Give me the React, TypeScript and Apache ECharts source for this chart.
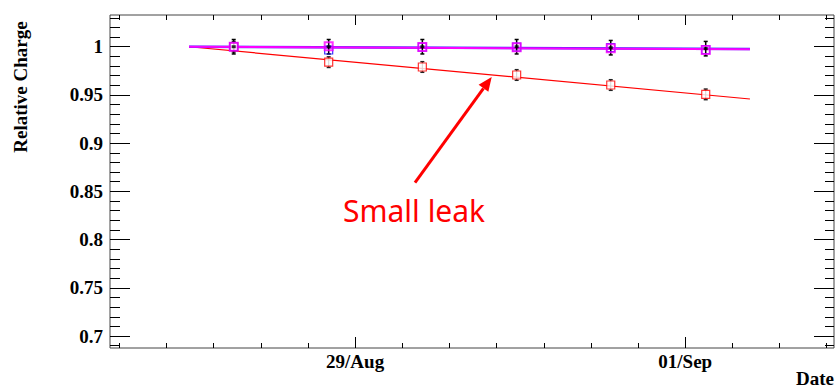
import React, { useEffect, useRef } from 'react';
import * as echarts from 'echarts';

// x values are days relative to 29/Aug 00:00
const pointDays = [-1.103, -0.24, 0.611, 1.468, 2.323, 3.186];
const redValues = [1.0, 0.984, 0.979, 0.9707, 0.9603, 0.9506];
const redErrors = [0.0055, 0.0055, 0.0055, 0.0055, 0.0055, 0.0055];
const blueValues = [1.0, 0.9966, 0.9995, 0.9995, 0.999, 0.997];
const magentaValues = [1.0, 1.0005, 0.9997, 0.9994, 0.9985, 0.9965];
const blackValues = [1.0, 1.0, 1.0, 1.0, 0.999, 0.998];
const blackErrors = [0.0075, 0.0075, 0.0075, 0.0075, 0.0075, 0.0075];

const fitDays = [-1.509, 3.588];
const redFit = [1.0, 0.9458];
const blueFit = [1.0, 0.9976];
const magentaFit = [1.0, 0.9973];

const xRange = [-2.2272, 4.3517];
const yRange = [0.6876, 1.0329];

const xMajorTickDays = [0, 3];
const xMajorTickLabels = ['29/Aug', '01/Sep'];
const xMinorTickDays = [
  -2.142857, -1.714286, -1.285714, -0.857143, -0.428571, 0, 0.428571, 0.857143,
  1.285714, 1.714286, 2.142857, 2.571429, 3, 3.428571, 3.857143, 4.285714,
];
const yMajorTicks = [0.7, 0.75, 0.8, 0.85, 0.9, 0.95, 1.0];
const yMajorTickLabels = ['0.7', '0.75', '0.8', '0.85', '0.9', '0.95', '1'];
const yMinorTicks = [
  0.69, 0.7, 0.71, 0.72, 0.73, 0.74, 0.75, 0.76, 0.77, 0.78, 0.79, 0.8, 0.81, 0.82,
  0.83, 0.84, 0.85, 0.86, 0.87, 0.88, 0.89, 0.9, 0.91, 0.92, 0.93, 0.94, 0.95, 0.96,
  0.97, 0.98, 0.99, 1.0, 1.01, 1.02, 1.03,
];

const labelFont = {
  fontFamily: 'Liberation Serif',
  fontWeight: 'bold' as const,
  fontSize: 19,
  color: '#000',
};

function closestLabel(v: number, ticks: number[], labels: string[]) {
  let best = 0;
  for (let i = 0; i < ticks.length; i++) {
    if (Math.abs(ticks[i] - v) < Math.abs(ticks[best] - v)) best = i;
  }
  return labels[best];
}

function tickAxis(
  kind: 'x' | 'y',
  position: string,
  values: number[],
  length: number,
  withLabels: boolean,
  labelValues?: number[],
  labelTexts?: string[],
  margin?: number,
) {
  const range = kind === 'x' ? xRange : yRange;
  return {
    type: 'value',
    position,
    min: range[0],
    max: range[1],
    axisLine: { show: false, onZero: false },
    splitLine: { show: false },
    axisTick: {
      show: true,
      inside: true,
      length,
      customValues: values,
      lineStyle: { color: '#000', width: 1 },
    },
    axisLabel: withLabels
      ? {
          show: true,
          customValues: labelValues,
          margin,
          ...labelFont,
          formatter: (v: number) => closestLabel(v, labelValues as number[], labelTexts as string[]),
        }
      : { show: false },
  };
}

export default function App() {
  const ref = useRef<HTMLDivElement>(null);
  useEffect(() => {
    document.body.style.margin = '0';
    if (!ref.current) return;
    const chart = echarts.init(ref.current, null, { renderer: 'svg' });

    const pairs = (xs: number[], ys: number[]) => xs.map((x, i) => [x, ys[i]]);
    const triples = (xs: number[], ys: number[], es: number[]) => xs.map((x, i) => [x, ys[i], es[i]]);

    const errorBars = (data: number[][], color: string, capWidth: number, lw: number) => ({
      type: 'custom',
      xAxisIndex: 0,
      yAxisIndex: 0,
      z: 4,
      data,
      renderItem: (_params: any, api: any) => {
        const x = api.value(0);
        const y = api.value(1);
        const e = api.value(2);
        const top = api.coord([x, y + e]);
        const bot = api.coord([x, y - e]);
        return {
          type: 'group',
          children: [
            { type: 'line', shape: { x1: top[0], y1: top[1], x2: bot[0], y2: bot[1] }, style: { stroke: color, lineWidth: lw } },
            { type: 'line', shape: { x1: top[0] - capWidth, y1: top[1], x2: top[0] + capWidth, y2: top[1] }, style: { stroke: color, lineWidth: 1.5 } },
            { type: 'line', shape: { x1: bot[0] - capWidth, y1: bot[1], x2: bot[0] + capWidth, y2: bot[1] }, style: { stroke: color, lineWidth: 1.5 } },
          ],
        };
      },
    });

    const tip = [491.7, 77];
    const tail = [415, 182.7];
    const dx = tip[0] - tail[0];
    const dy = tip[1] - tail[1];
    const len = Math.sqrt(dx * dx + dy * dy);
    const ux = dx / len;
    const uy = dy / len;
    const headLen = 14;
    const headHalf = 6;
    const base = [tip[0] - ux * headLen, tip[1] - uy * headLen];
    const px = -uy;
    const py = ux;

    chart.setOption({
      animation: false,
      grid: {
        left: 110,
        right: 1,
        top: 15,
        bottom: 39,
        show: true,
        borderColor: '#444',
        borderWidth: 1,
        backgroundColor: 'transparent',
      },
      xAxis: [
        tickAxis('x', 'bottom', xMinorTickDays, 5, false),
        tickAxis('x', 'bottom', xMajorTickDays, 11, true, xMajorTickDays, xMajorTickLabels, 4),
        tickAxis('x', 'top', xMinorTickDays, 5, false),
        tickAxis('x', 'top', xMajorTickDays, 10, false),
      ],
      yAxis: [
        tickAxis('y', 'left', yMinorTicks, 10, false),
        tickAxis('y', 'left', yMajorTicks, 20, true, yMajorTicks, yMajorTickLabels, 7),
        tickAxis('y', 'right', yMinorTicks, 9, false),
        tickAxis('y', 'right', yMajorTicks, 20, false),
      ],
      series: [
        {
          type: 'line',
          data: pairs(fitDays, redFit),
          symbol: 'none',
          lineStyle: { color: '#ff0000', width: 1.2 },
          z: 2,
        },
        {
          type: 'line',
          data: pairs(fitDays, blueFit),
          symbol: 'none',
          lineStyle: { color: '#3030ff', width: 2.5 },
          z: 2,
        },
        {
          type: 'line',
          data: pairs(fitDays, magentaFit),
          symbol: 'none',
          lineStyle: { color: '#ff00ff', width: 2 },
          z: 2,
        },
        errorBars(triples(pointDays, redValues, redErrors), '#222', 2, 1),
        errorBars(triples(pointDays, blackValues, blackErrors), '#000', 2, 1.5),
        {
          type: 'scatter',
          data: pairs(pointDays, redValues),
          symbol: 'rect',
          symbolSize: 8,
          itemStyle: { color: '#ffffff', borderColor: '#ff0000', borderWidth: 1.2 },
          z: 5,
        },
        {
          type: 'scatter',
          data: pairs(pointDays, blueValues),
          symbol: 'rect',
          symbolSize: 8,
          itemStyle: { color: 'rgba(0,0,0,0)', borderColor: '#0000ff', borderWidth: 1.2 },
          z: 5,
        },
        {
          type: 'scatter',
          data: pairs(pointDays, magentaValues),
          symbol: 'rect',
          symbolSize: 8,
          itemStyle: { color: 'rgba(0,0,0,0)', borderColor: '#ff00ff', borderWidth: 2 },
          z: 6,
        },
        {
          type: 'scatter',
          data: pairs(pointDays, blackValues),
          symbol: 'rect',
          symbolSize: [4, 3],
          itemStyle: { color: '#000' },
          z: 7,
        },
      ],
      graphic: [
        {
          type: 'text',
          x: 20,
          y: 87,
          rotation: Math.PI / 2,
          style: {
            text: 'Relative Charge',
            fontFamily: 'Liberation Serif',
            fontWeight: 'bold',
            fontSize: 19,
            fill: '#000',
            align: 'center',
            verticalAlign: 'middle',
          },
        },
        {
          type: 'text',
          x: 834,
          y: 378,
          style: {
            text: 'Date',
            fontFamily: 'Liberation Serif',
            fontWeight: 'bold',
            fontSize: 19,
            fill: '#000',
            align: 'right',
            verticalAlign: 'middle',
          },
        },
        {
          type: 'line',
          shape: { x1: tail[0], y1: tail[1], x2: base[0], y2: base[1] },
          style: { stroke: '#ff0000', lineWidth: 3 },
        },
        {
          type: 'polygon',
          shape: {
            points: [
              tip,
              [base[0] + px * headHalf, base[1] + py * headHalf],
              [base[0] - px * headHalf, base[1] - py * headHalf],
            ],
          },
          style: { fill: '#ff0000' },
        },
        {
          type: 'text',
          x: 343,
          y: 210,
          style: {
            text: 'Small leak',
            fontFamily: 'Noto Sans',
            fontSize: 30,
            fill: '#ff0000',
            align: 'left',
            verticalAlign: 'middle',
          },
        },
      ],
    });
    return () => chart.dispose();
  }, []);
  return <div ref={ref} style={{ width: 835, height: 387 }} />;
}
